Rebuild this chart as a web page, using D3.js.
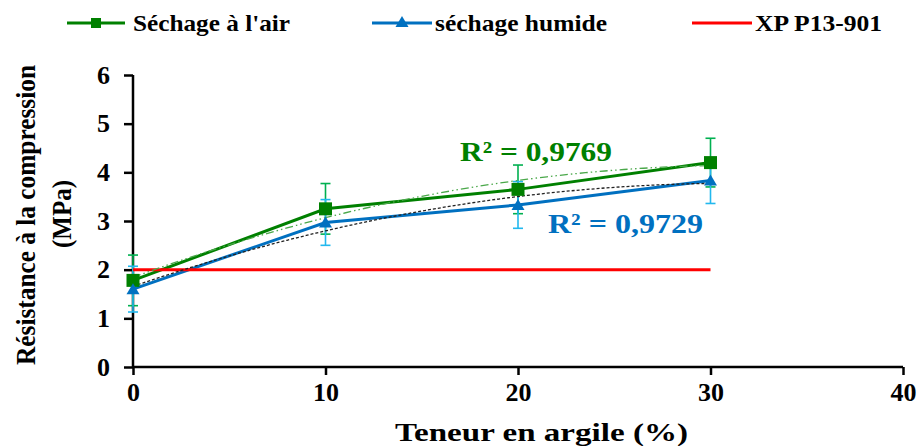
<!DOCTYPE html>
<html><head><meta charset="utf-8">
<script src="https://cdn.jsdelivr.net/npm/d3@7"></script>
<style>body{margin:0;background:#fff}svg{display:block}
text{font-family:"Liberation Serif",serif;font-weight:bold}</style>
</head><body><svg id="c" width="921" height="446"></svg>
<script>
// ---- data ----
const categories = [0, 10, 20, 30];
const airValues = [1.78, 3.25, 3.65, 4.20];
const airErrors = [0.52, 0.52, 0.50, 0.50];
const humideValues = [1.60, 2.97, 3.33, 3.83];
const humideErrors = [0.47, 0.47, 0.48, 0.47];
const normValue = 2;
const normRange = [0, 30];
const xTicks = [0, 10, 20, 30, 40];
const yTicks = [0, 1, 2, 3, 4, 5, 6];
const seriesNames = ["Séchage à l'air", "séchage humide", "XP P13-901"];
const r2Labels = ["R² = 0,9769", "R² = 0,9729"];
const xTitle = "Teneur en argile (%)";
const yTitle = ["Résistance à la compression", "(MPa)"];

// ---- styles ----
const FONT = '"Liberation Serif",serif';
const GREEN = "#008000", BLUE = "#0070C0", RED = "#FF0000";
const GREEN_ERR = "#00B050", BLUE_ERR = "#22B8EE";

const svg = d3.select("#c");
const x = d3.scaleLinear([0, 40], [133, 903]);
const y = d3.scaleLinear([0, 6], [367, 75]);

// quadratic least-squares fit (trendline)
function polyFit2(xs, ys) {
  let S = [0,0,0,0,0], T = [0,0,0];
  xs.forEach((xi, i) => {
    for (let k = 0; k < 5; k++) S[k] += Math.pow(xi, k);
    for (let k = 0; k < 3; k++) T[k] += Math.pow(xi, k) * ys[i];
  });
  const A = [[S[0],S[1],S[2],T[0]],[S[1],S[2],S[3],T[1]],[S[2],S[3],S[4],T[2]]];
  for (let i = 0; i < 3; i++) {
    for (let j = i + 1; j < 3; j++) {
      const f = A[j][i] / A[i][i];
      for (let k = i; k < 4; k++) A[j][k] -= f * A[i][k];
    }
  }
  const c = [0,0,0];
  for (let i = 2; i >= 0; i--) {
    let s = A[i][3];
    for (let k = i + 1; k < 3; k++) s -= A[i][k] * c[k];
    c[i] = s / A[i][i];
  }
  return t => c[0] + c[1]*t + c[2]*t*t;
}

function styleText(sel, size) {
  return sel.attr("font-family", FONT).attr("font-weight", "bold").attr("font-size", size)
    .style("font-family", FONT).style("font-weight", "bold").style("font-size", size + "px");
}

// ---- axes ----
const xAxis = svg.append("g").attr("transform", `translate(0,${y(0)})`)
  .call(d3.axisBottom(x).tickValues(xTicks).tickFormat(d3.format("d")).tickSize(8).tickSizeOuter(0).tickPadding(8));
const yAxis = svg.append("g").attr("transform", `translate(${x(0)},0)`)
  .call(d3.axisLeft(y).tickValues(yTicks).tickFormat(d3.format("d")).tickSize(9).tickSizeOuter(0).tickPadding(14));
[xAxis, yAxis].forEach(g => {
  g.attr("font-family", FONT);
  g.select(".domain").attr("stroke", "#000").attr("stroke-width", 2.5);
  g.selectAll(".tick line").attr("stroke", "#000").attr("stroke-width", 2.5);
  styleText(g.selectAll(".tick text").attr("fill", "#000"), 26);
});
xAxis.select(".domain").attr("d", `M${x(0)},0H${x(40)}`);
yAxis.select(".domain").attr("d", `M0,${y(0)}V${y(6)}`);

// ---- error bars ----
function errorBars(vals, errs, color) {
  const g = svg.append("g").attr("stroke", color).attr("stroke-width", 1.6).attr("fill", "none");
  categories.forEach((c, i) => {
    const cx = x(c), y1 = y(vals[i] + errs[i]), y2 = y(vals[i] - errs[i]);
    g.append("line").attr("x1", cx).attr("x2", cx).attr("y1", y1).attr("y2", y2);
    g.append("line").attr("x1", cx - 5).attr("x2", cx + 5).attr("y1", y1).attr("y2", y1);
    g.append("line").attr("x1", cx - 5).attr("x2", cx + 5).attr("y1", y2).attr("y2", y2);
  });
}
errorBars(airValues, airErrors, GREEN_ERR);
errorBars(humideValues, humideErrors, BLUE_ERR);

// ---- lines ----
const line = d3.line().x((d, i) => x(categories[i])).y(d => y(d));
svg.append("path").datum(airValues).attr("d", line).attr("fill", "none")
  .attr("stroke", GREEN).attr("stroke-width", 3);
svg.append("path").datum(humideValues).attr("d", line).attr("fill", "none")
  .attr("stroke", BLUE).attr("stroke-width", 3);
svg.append("line").attr("x1", x(normRange[0])).attr("x2", x(normRange[1]))
  .attr("y1", y(normValue)).attr("y2", y(normValue))
  .attr("stroke", RED).attr("stroke-width", 3);

// ---- trendlines ----
const fitAir = polyFit2(categories, airValues);
const fitHum = polyFit2(categories, humideValues);
const tSamples = d3.range(0, 30.01, 0.5);
const tl = f => d3.line().x(t => x(t)).y(t => y(f(t)));
svg.append("path").datum(tSamples).attr("d", tl(fitAir)).attr("fill", "none")
  .attr("stroke", "#4aa84a").attr("stroke-width", 1.3).attr("stroke-dasharray", "8,3,1.5,3,1.5,3");
svg.append("path").datum(tSamples).attr("d", tl(fitHum)).attr("fill", "none")
  .attr("stroke", "#222").attr("stroke-width", 1.3).attr("stroke-dasharray", "3,2");

// ---- markers ----
const tri = (cx, cy) => `M${cx},${cy-6}L${cx+6.5},${cy+5}L${cx-6.5},${cy+5}Z`;
svg.append("g").selectAll("rect").data(airValues).join("rect")
  .attr("x", (d, i) => x(categories[i]) - 6.5).attr("y", d => y(d) - 6.5)
  .attr("width", 13).attr("height", 13).attr("fill", GREEN);
svg.append("g").selectAll("path").data(humideValues).join("path")
  .attr("d", (d, i) => tri(x(categories[i]), y(d))).attr("fill", BLUE);

// ---- R² labels ----
styleText(svg.append("text").attr("x", 460).attr("y", 161).text(r2Labels[0]).attr("fill", GREEN), 28)
  .attr("textLength", 152).attr("lengthAdjust", "spacingAndGlyphs");
styleText(svg.append("text").attr("x", 548).attr("y", 233).text(r2Labels[1]).attr("fill", BLUE), 28)
  .attr("textLength", 155).attr("lengthAdjust", "spacingAndGlyphs");

// ---- axis titles ----
styleText(svg.append("text").attr("x", 395).attr("y", 441).text(xTitle), 25)
  .attr("textLength", 293).attr("lengthAdjust", "spacingAndGlyphs");
styleText(svg.append("text").attr("transform", "translate(35,215) rotate(-90)").attr("text-anchor", "middle")
  .text(yTitle[0]), 27).attr("textLength", 300).attr("lengthAdjust", "spacingAndGlyphs");
styleText(svg.append("text").attr("transform", "translate(71,214) rotate(-90)").attr("text-anchor", "middle")
  .text(yTitle[1]), 27).attr("textLength", 68).attr("lengthAdjust", "spacingAndGlyphs");

// ---- legend ----
const legend = [
  {name: seriesNames[0], color: GREEN, x0: 67, x1: 125, tx: 133, tl: 157, mk: "sq"},
  {name: seriesNames[1], color: BLUE, x0: 372, x1: 432, tx: 435, tl: 172, mk: "tri"},
  {name: seriesNames[2], color: RED, x0: 692, x1: 752, tx: 755, tl: 127, mk: null}
];
const LY = 23;
legend.forEach(l => {
  svg.append("line").attr("x1", l.x0).attr("x2", l.x1).attr("y1", LY).attr("y2", LY)
    .attr("stroke", l.color).attr("stroke-width", 3);
  const mx = (l.x0 + l.x1) / 2;
  if (l.mk === "sq") svg.append("rect").attr("x", mx - 5).attr("y", LY - 5).attr("width", 10).attr("height", 10).attr("fill", l.color);
  if (l.mk === "tri") svg.append("path").attr("d", tri(mx, LY - 1)).attr("fill", l.color);
  styleText(svg.append("text").attr("x", l.tx).attr("y", 31).text(l.name), 24)
    .attr("textLength", l.tl).attr("lengthAdjust", "spacingAndGlyphs");
});
</script></body></html>
